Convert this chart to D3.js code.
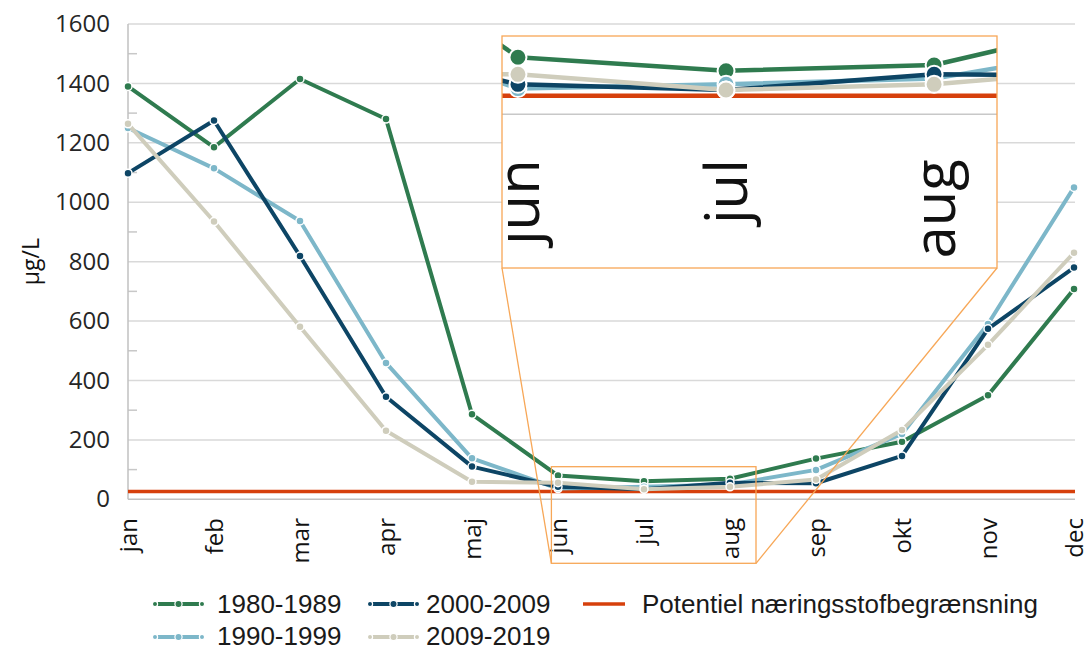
<!DOCTYPE html>
<html><head><meta charset="utf-8">
<script src="https://cdn.jsdelivr.net/npm/d3@7"></script>
<style>
html,body{margin:0;padding:0;background:#fff;}
svg{display:block;}
</style></head>
<body>
<svg id="chart" width="1089" height="652"></svg>
<script>
// ---- data ----
const months = ["jan","feb","mar","apr","maj","jun","jul","aug","sep","okt","nov","dec"];
const s1980 = [1390,1185,1415,1280,286,80,61,69,137,194,350,708];
const s1990 = [1250,1114,937,459,138,36,42,50,99,220,590,1050];
const s2000 = [1098,1275,819,345,110,42,34,56,54,146,574,780];
const s2009 = [1264,935,581,231,59,56,34,42,67,233,520,830];
const limitValue = 26;
const yTicks = [0,200,400,600,800,1000,1200,1400,1600];
const yMinorTicks = [100,300,500,700,900,1100,1300,1500];
const seriesNames = ["1980-1989","1990-1999","2000-2009","2009-2019"];
const limitName = "Potentiel næringsstofbegrænsning";
const yLabel = "µg/L";
const zoomMonths = ["jun","jul","aug"];

const colors = {"1980-1989":"#2f7b4f","1990-1999":"#7db7c9","2000-2009":"#0d4565","2009-2019":"#cfcdbc"};
const limitColor = "#d6400c";
const boxColor = "#f7a757";

const series = seriesNames.map((n,i)=>({name:n, values:[s1980,s1990,s2000,s2009][i]}));

const svg = d3.select("#chart");
const x = d3.scalePoint().domain(months).range([128,1074]).padding(0);
const y = d3.scaleLinear().domain([0,1600]).range([499.3,24]);

const FONT = "'Open Sans', 'Noto Sans', sans-serif";

// gridlines
svg.append("g").selectAll("line").data(yTicks.filter(d=>d>0)).join("line")
  .attr("x1",128).attr("x2",1075).attr("y1",d=>y(d)).attr("y2",d=>y(d))
  .attr("stroke","#d9d9d9").attr("stroke-width",1.5);
// minor ticks
svg.append("g").selectAll("line").data(yMinorTicks).join("line")
  .attr("x1",128).attr("x2",137).attr("y1",d=>y(d)).attr("y2",d=>y(d))
  .attr("stroke","#c8c8c8").attr("stroke-width",1.5);
// axes lines
svg.append("line").attr("x1",128).attr("x2",128).attr("y1",y(1600)).attr("y2",y(0)).attr("stroke","#c0c0c0").attr("stroke-width",1.5);
svg.append("line").attr("x1",128).attr("x2",1075).attr("y1",y(0)).attr("y2",y(0)).attr("stroke","#c0c0c0").attr("stroke-width",1.5);

// y tick labels
const yAxis = d3.axisLeft(y).tickValues(yTicks).tickSize(0).tickPadding(18).tickFormat(d3.format("d"));
const ya = svg.append("g").attr("transform","translate(128,0)").call(yAxis);
ya.select(".domain").remove();
ya.selectAll("text").attr("font-family",FONT).attr("font-size",24).attr("fill","#262626");

// x labels
function xLabels(g, xf, yPos, size){
  g.selectAll("text").data(months).join("text")
    .attr("x",d=>xf(d)).attr("y",yPos)
    .attr("transform",d=>`rotate(-90,${xf(d)},${yPos})`)
    .attr("text-anchor","end").attr("dy","0.36em")
    .attr("font-family",FONT).attr("font-size",size).attr("fill","#111")
    .text(d=>d);
}
xLabels(svg.append("g"), d=>x(d), 518, 24);

// y axis title
const yMid = (y(0)+y(1600))/2;
svg.append("text").attr("x",31).attr("y",yMid).attr("transform",`rotate(-90,31,${yMid})`)
  .attr("text-anchor","middle").attr("dy","0.35em")
  .attr("font-family",FONT).attr("font-size",23).attr("fill","#111").text(yLabel);

// limit line
svg.append("line").attr("x1",128).attr("x2",1075).attr("y1",y(limitValue)).attr("y2",y(limitValue))
  .attr("stroke",limitColor).attr("stroke-width",3.5);

function drawSeries(g, xf, yf, lw, r, sw){
  series.forEach(s=>{
    const pts = months.map((m,i)=>[xf(m), yf(s.values[i])]);
    g.append("path").attr("d",d3.line()(pts)).attr("fill","none")
      .attr("stroke",colors[s.name]).attr("stroke-width",lw).attr("stroke-linejoin","round");
    g.append("g").selectAll("circle").data(pts).join("circle")
      .attr("cx",d=>d[0]).attr("cy",d=>d[1]).attr("r",r)
      .attr("fill",colors[s.name]).attr("stroke","#fff").attr("stroke-width",sw);
  });
}
drawSeries(svg.append("g"), d=>x(d), y, 4, 4, 1.5);

// ---- zoom box & inset ----
const zb = {x0: x(zoomMonths[0]) - 6.6, x1: x(zoomMonths[2]) + 26, y0: 466.7, y1: 563.3};
const ib = {x0: 502, x1: 997, y0: 36, y1: 268};
const sx = (ib.x1-ib.x0)/(zb.x1-zb.x0), sy = (ib.y1-ib.y0)/(zb.y1-zb.y0);
const ix = m => ib.x0 + (x(m)-zb.x0)*sx;
const iy = v => ib.y0 + (y(v)-zb.y0)*sy;

// connectors
svg.append("line").attr("x1",ib.x0).attr("y1",ib.y1).attr("x2",zb.x0).attr("y2",zb.y1)
  .attr("stroke",boxColor).attr("stroke-width",1.3);
svg.append("line").attr("x1",ib.x1).attr("y1",ib.y1).attr("x2",zb.x1).attr("y2",zb.y1)
  .attr("stroke",boxColor).attr("stroke-width",1.3);
svg.append("rect").attr("x",zb.x0).attr("y",zb.y0).attr("width",zb.x1-zb.x0).attr("height",zb.y1-zb.y0)
  .attr("fill","none").attr("stroke",boxColor).attr("stroke-width",1.3);

svg.append("clipPath").attr("id","insetClip").append("rect")
  .attr("x",ib.x0).attr("y",ib.y0).attr("width",ib.x1-ib.x0).attr("height",ib.y1-ib.y0);
const inset = svg.append("g").attr("clip-path","url(#insetClip)");
inset.append("rect").attr("x",ib.x0).attr("y",ib.y0).attr("width",ib.x1-ib.x0).attr("height",ib.y1-ib.y0).attr("fill","#fff");
inset.append("line").attr("x1",ib.x0).attr("x2",ib.x1).attr("y1",iy(0)).attr("y2",iy(0))
  .attr("stroke","#c8c8c8").attr("stroke-width",1.5);
inset.append("line").attr("x1",ib.x0).attr("x2",ib.x1).attr("y1",iy(limitValue)).attr("y2",iy(limitValue))
  .attr("stroke",limitColor).attr("stroke-width",4.5);
drawSeries(inset.append("g"), ix, iy, 4.5, 8.5, 2);
// inset labels (only the zoomed months lie inside the box)
const insetLabelY = ib.y0 + (518-zb.y0)*sy;
inset.append("g").selectAll("text").data(zoomMonths).join("text")
  .attr("x",d=>ix(d)).attr("y",insetLabelY)
  .attr("transform",d=>`rotate(-90,${ix(d)},${insetLabelY})`)
  .attr("text-anchor","end").attr("dy","0.36em")
  .attr("font-family",FONT).attr("font-size",24*sx).attr("fill","#111")
  .text(d=>d);
svg.append("rect").attr("x",ib.x0).attr("y",ib.y0).attr("width",ib.x1-ib.x0).attr("height",ib.y1-ib.y0)
  .attr("fill","none").attr("stroke",boxColor).attr("stroke-width",1.3);

// ---- legend ----
const LFONT = "'Liberation Sans', Arial, sans-serif";
const legendPos = [
  {name:"1980-1989", sx:155, tx:217, cy:604, by:613},
  {name:"2000-2009", sx:370, tx:426, cy:604, by:613},
  {name:"1990-1999", sx:155, tx:217, cy:637, by:645},
  {name:"2009-2019", sx:370, tx:426, cy:637, by:645}
];
const lg = svg.append("g");
legendPos.forEach(p=>{
  const c = colors[p.name];
  lg.append("line").attr("x1",p.sx).attr("x2",p.sx+47).attr("y1",p.cy).attr("y2",p.cy)
    .attr("stroke",c).attr("stroke-width",4);
  [[0,2.6],[23.5,3.6],[47,2.6]].forEach(([dx,r])=>{
    lg.append("circle").attr("cx",p.sx+dx).attr("cy",p.cy).attr("r",r).attr("fill",c).attr("stroke","#fff").attr("stroke-width",1.2);
  });
  lg.append("text").attr("x",p.tx).attr("y",p.by).attr("font-family",LFONT).attr("font-size",26).attr("fill","#1a1a1a").text(p.name);
});
lg.append("line").attr("x1",583).attr("x2",625).attr("y1",604).attr("y2",604).attr("stroke",limitColor).attr("stroke-width",3.5);
lg.append("text").attr("x",642).attr("y",613).attr("font-family",LFONT).attr("font-size",26).attr("fill","#1a1a1a").text(limitName);
</script>
</body></html>
